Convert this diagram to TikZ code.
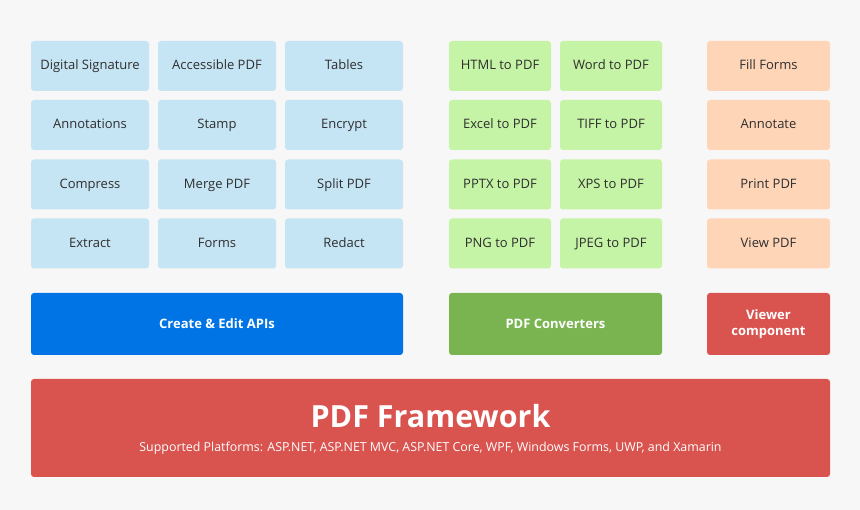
\documentclass[tikz,border=0pt]{standalone}
\usepackage{fontspec}
\setmainfont{Open Sans}
\definecolor{bg}{HTML}{F7F7F7}
\definecolor{lblue}{HTML}{C6E5F4}
\definecolor{lgreen}{HTML}{C6F4A6}
\definecolor{lpeach}{HTML}{FFD5B8}
\definecolor{dblue}{HTML}{0074E4}
\definecolor{dgreen}{HTML}{79B451}
\definecolor{dred}{HTML}{D9534F}
\definecolor{txt}{HTML}{2E2E2E}
\tikzset{
  tile/.style={rounded corners=3pt, minimum width=118pt, minimum height=50pt, inner sep=0pt, text=txt, font=\fontsize{13}{15}\selectfont, text height=10pt, text depth=2pt},
  bluetile/.style={tile, fill=lblue},
  greentile/.style={tile, fill=lgreen, minimum width=102pt},
  peachtile/.style={tile, fill=lpeach, minimum width=123pt},
  bar/.style={rounded corners=3pt, minimum height=62pt, inner sep=0pt, text=white, font=\fontsize{13}{16}\selectfont\bfseries, align=center}
}
\begin{document}
\begin{tikzpicture}[x=1pt,y=-1pt]
\fill[bg] (0,0) rectangle (860,510);
\useasboundingbox (0,0) rectangle (860,510);
% Create & Edit tiles
\node[bluetile] (ds) at (90,66) {Digital Signature};
\node[bluetile] (ap) at (217,66) {Accessible PDF};
\node[bluetile] (tb) at (344,66) {Tables};
\node[bluetile] (an) at (90,125) {Annotations};
\node[bluetile] (st) at (217,125) {Stamp};
\node[bluetile] (en) at (344,125) {Encrypt};
\node[bluetile] (co) at (90,184.5) {Compress};
\node[bluetile] (mp) at (217,184.5) {Merge PDF};
\node[bluetile] (sp) at (344,184.5) {Split PDF};
\node[bluetile] (ex) at (90,243.5) {Extract};
\node[bluetile] (fo) at (217,243.5) {Forms};
\node[bluetile] (re) at (344,243.5) {Redact};
% Converters
\node[greentile] (h2p) at (500,66) {HTML to PDF};
\node[greentile] (w2p) at (611,66) {Word to PDF};
\node[greentile] (e2p) at (500,125) {Excel to PDF};
\node[greentile] (t2p) at (611,125) {TIFF to PDF};
\node[greentile] (pp2p) at (500,184.5) {PPTX to PDF};
\node[greentile] (x2p) at (611,184.5) {XPS to PDF};
\node[greentile] (png2p) at (500,243.5) {PNG to PDF};
\node[greentile] (j2p) at (611,243.5) {JPEG to PDF};
% Viewer
\node[peachtile] (ff) at (768.5,66) {Fill Forms};
\node[peachtile] (ann) at (768.5,125) {Annotate};
\node[peachtile] (pr) at (768.5,184.5) {Print PDF};
\node[peachtile] (vp) at (768.5,243.5) {View PDF};
% Bars
\node[bar, fill=dblue, minimum width=372pt] (cea) at (217,324) {Create \& Edit APIs};
\node[bar, fill=dgreen, minimum width=213pt] (pc) at (555.5,324) {PDF Converters};
\node[bar, fill=dred, minimum width=123pt] (vc) at (768.5,324) {Viewer\\component};
% Framework
\node[rounded corners=3pt, fill=dred, minimum width=799pt, minimum height=98pt, inner sep=0pt] (fw) at (430.5,428) {};
\node[text=white, font=\fontsize{30.5}{36}\selectfont\bfseries, inner sep=0pt] (fwt) at (430.5,416) {PDF Framework};
\node[text=white, font=\fontsize{12.4}{14}\selectfont, inner sep=0pt] (fws) at (430.5,448) {Supported Platforms: ASP.NET, ASP.NET MVC, ASP.NET Core, WPF, Windows Forms, UWP, and Xamarin};
\end{tikzpicture}
\end{document}
